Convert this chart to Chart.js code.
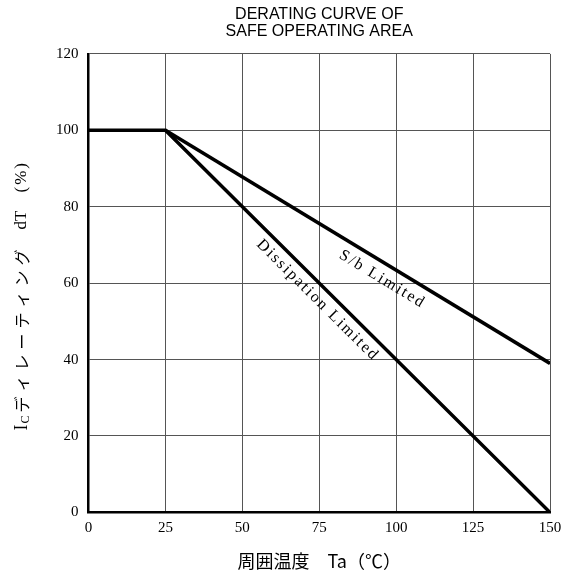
<!DOCTYPE html>
<html>
<head>
<meta charset="utf-8">
<script src="https://cdn.jsdelivr.net/npm/chart.js@4"></script>
<style>
  html, body { margin: 0; padding: 0; background: #fff; }
  #wrap { width: 572px; height: 576px; }
</style>
</head>
<body>
<div id="wrap"><canvas id="derChart"></canvas></div>
<script>
// data
const dissTemp = [0, 25, 150];
const dissPct = [100, 100, 0];
const sbTemp = [25, 150];
const sbPct = [100, 39];
const xTicks = [0, 25, 50, 75, 100, 125, 150];
const yTicks = [0, 20, 40, 60, 80, 100, 120];

const serif = "'Liberation Serif', 'DejaVu Serif', serif";
const jp = "'Noto Sans CJK JP', sans-serif";

// rotated text labels sitting along each line
const lineLabels = {
  id: 'lineLabels',
  afterDatasetsDraw(chart) {
    const c = chart.ctx, xs = chart.scales.x, ys = chart.scales.y;
    const put = (txt, x, y, x1, y1, x2, y2) => {
      const ang = Math.atan2(ys.getPixelForValue(y2) - ys.getPixelForValue(y1),
                             xs.getPixelForValue(x2) - xs.getPixelForValue(x1));
      c.save();
      c.translate(xs.getPixelForValue(x), ys.getPixelForValue(y));
      c.rotate(ang);
      c.font = '16px ' + serif;
      c.letterSpacing = '2px';
      c.fillStyle = '#000';
      c.textAlign = 'center';
      c.textBaseline = 'middle';
      c.fillText(txt, 0, 0);
      c.restore();
    };
    put('S/b Limited', 95.5, 61, sbTemp[0], sbPct[0], sbTemp[1], sbPct[1]);
    put('Dissipation Limited', 74.5, 55.5, dissTemp[1], dissPct[1], dissTemp[2], dissPct[2]);
  }
};

// y axis title with subscript C, drawn by hand
const yTitle = {
  id: 'yTitle',
  afterDraw(chart) {
    const c = chart.ctx, a = chart.chartArea;
    c.save();
    c.translate(22, a.bottom - 82);
    c.rotate(-Math.PI / 2);
    c.fillStyle = '#000';
    c.textBaseline = 'middle';
    c.textAlign = 'left';
    let x = 0;
    c.font = '18px ' + serif;
    c.fillText('I', x, 0);
    x += c.measureText('I').width + 1;
    c.font = '12px ' + serif;
    c.fillText('C', x, 4);
    x += c.measureText('C').width + 3;
    c.font = '16px ' + jp;
    c.letterSpacing = '5px';
    c.fillText('ディレーティング', x, 0);
    x += c.measureText('ディレーティング').width + 15;
    c.letterSpacing = '0px';
    c.font = '17px ' + serif;
    c.fillText('dT', x, 0);
    x += c.measureText('dT').width + 18;
    c.letterSpacing = '2px';
    c.fillText('(%)', x, 0);
    c.restore();
  }
};

const ctx = document.getElementById('derChart').getContext('2d');
const chart = new Chart(ctx, {
  type: 'line',
  data: {
    datasets: [{
      label: 'Dissipation Limited',
      data: dissTemp.map((t, i) => ({ x: t, y: dissPct[i] })),
      borderColor: '#000',
      borderWidth: 3.5,
      pointRadius: 0,
      tension: 0
    }, {
      label: 'S/b Limited',
      data: sbTemp.map((t, i) => ({ x: t, y: sbPct[i] })),
      borderColor: '#000',
      borderWidth: 3.5,
      pointRadius: 0,
      tension: 0
    }]
  },
  options: {
    responsive: true,
    maintainAspectRatio: false,
    animation: false,
    layout: { padding: { left: 46, right: 22, top: 6, bottom: 0 } },
    plugins: {
      legend: { display: false },
      tooltip: { enabled: false },
      title: {
        display: true,
        fullSize: false,
        text: ['DERATING CURVE OF', 'SAFE OPERATING AREA'],
        color: '#000',
        font: { family: "'Liberation Sans Narrow', 'Liberation Sans', sans-serif", size: 16, weight: 'normal', lineHeight: 1.06 },
        padding: { top: 0, bottom: 14 }
      }
    },
    scales: {
      x: {
        type: 'linear',
        min: 0, max: 150,
        afterBuildTicks: ax => { ax.ticks = xTicks.map(v => ({ value: v })); },
        border: { color: '#000', width: 2.5 },
        grid: { color: '#555', lineWidth: 1, drawTicks: false },
        ticks: { color: '#000', padding: 7, font: { family: serif, size: 15 } },
        title: {
          display: true,
          text: '周囲温度　Ta（℃）',
          color: '#000',
          font: { family: jp, size: 18 },
          padding: { top: 6 }
        }
      },
      y: {
        min: 0, max: 120,
        afterBuildTicks: ax => { ax.ticks = yTicks.map(v => ({ value: v })); },
        border: { color: '#000', width: 2.5 },
        grid: { color: '#555', lineWidth: 1, drawTicks: false },
        ticks: { color: '#000', padding: 10, font: { family: serif, size: 15 } },
        title: { display: false }
      }
    }
  },
  plugins: [lineLabels, yTitle]
});
</script>
</body>
</html>
